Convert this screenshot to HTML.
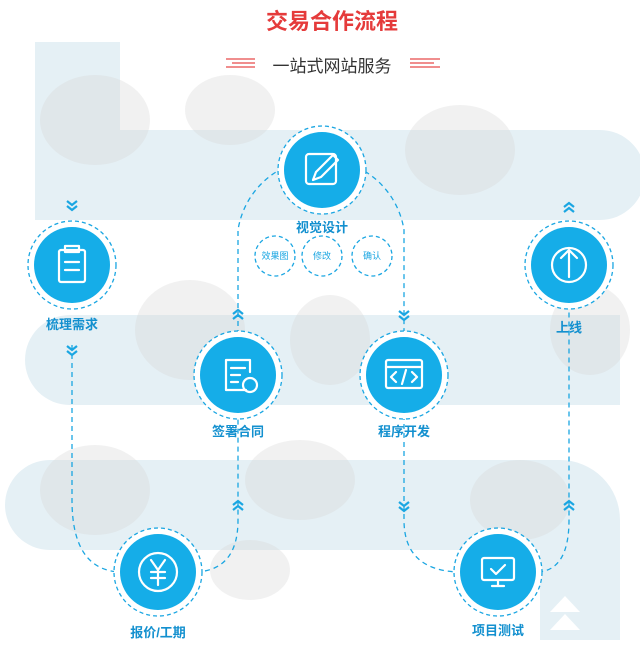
<!DOCTYPE html>
<html><head><meta charset="utf-8"><style>
body{margin:0;width:640px;height:655px;background:#fff;overflow:hidden;font-family:"Liberation Sans","Noto Sans CJK SC",sans-serif;position:relative}
svg{position:absolute;left:0;top:0}
.t{position:absolute;white-space:nowrap;transform:translateX(-50%)}
.lbl{color:#1390cf;font-size:13px;font-weight:bold}
</style></head><body>
<svg width="640" height="655">
<defs>
<g id="ch" fill="none" stroke="#1aa6e2" stroke-width="2.2"><path d="M-5,-4 L0,0 L5,-4 M-5,1 L0,5 L5,1"/></g>
</defs>
<g fill="#e5f0f5">
<rect x="35" y="42" width="85" height="100"/>
<path d="M35,130 H600 A45,45 0 0 1 600,220 H35 Z"/>
<path d="M70,315 H620 V405 H70 A45,45 0 0 1 70,315 Z"/>
<path d="M50,460 H560 A60,60 0 0 1 620,520 V640 H540 V550 H50 A45,45 0 0 1 50,460 Z"/>
</g>
<g fill="#d8d8d8" opacity="0.35">
<ellipse cx="95" cy="120" rx="55" ry="45"/><ellipse cx="230" cy="110" rx="45" ry="35"/>
<ellipse cx="460" cy="150" rx="55" ry="45"/><ellipse cx="590" cy="330" rx="40" ry="45"/>
<ellipse cx="190" cy="330" rx="55" ry="50"/><ellipse cx="330" cy="340" rx="40" ry="45"/>
<ellipse cx="95" cy="490" rx="55" ry="45"/><ellipse cx="300" cy="480" rx="55" ry="40"/>
<ellipse cx="520" cy="500" rx="50" ry="40"/><ellipse cx="250" cy="570" rx="40" ry="30"/>
</g>
<polygon points="550,612 565,596 580,612" fill="#fff"/><polygon points="550,630 565,614 580,630" fill="#fff"/>
<g stroke="#e64a4a" stroke-width="1.2">
<line x1="226" y1="59" x2="255" y2="59"/><line x1="232" y1="63" x2="255" y2="63"/><line x1="226" y1="67" x2="255" y2="67"/>
<line x1="410" y1="59" x2="440" y2="59"/><line x1="410" y1="63" x2="434" y2="63"/><line x1="410" y1="67" x2="440" y2="67"/>
</g>
<g fill="none" stroke="#1aa6e2" stroke-width="1.3" stroke-dasharray="5,4">
<path d="M72,345 V500 Q72,570 120,572"/>
<path d="M196,572 Q238,570 238,520 V415"/>
<path d="M238,335 V230 A84,84 0 0 1 404,230 V335"/>
<path d="M404,415 V520 Q404,570 458,572"/>
<path d="M538,572 Q569,570 569,520 V305"/>
</g>
<g>
<use href="#ch" x="72" y="205"/><use href="#ch" x="72" y="350"/>
<use href="#ch" x="404" y="315"/><use href="#ch" x="404" y="506"/>
<use href="#ch" transform="translate(238,315) rotate(180)"/><use href="#ch" transform="translate(238,506) rotate(180)"/>
<use href="#ch" transform="translate(569,208) rotate(180)"/><use href="#ch" transform="translate(569,506) rotate(180)"/>
</g>
<g fill="#fff" stroke="#1aa6e2" stroke-width="1.3" stroke-dasharray="4,3">
<circle cx="322" cy="170" r="44"/><circle cx="72" cy="265" r="44"/><circle cx="238" cy="375" r="44"/>
<circle cx="404" cy="375" r="44"/><circle cx="569" cy="265" r="44"/><circle cx="158" cy="572" r="44"/><circle cx="498" cy="572" r="44"/>
<circle cx="275" cy="256" r="20"/><circle cx="322" cy="256" r="20"/><circle cx="372" cy="256" r="20"/>
</g>
<g fill="#15ade8">
<circle cx="322" cy="170" r="38"/><circle cx="72" cy="265" r="38"/><circle cx="238" cy="375" r="38"/>
<circle cx="404" cy="375" r="38"/><circle cx="569" cy="265" r="38"/><circle cx="158" cy="572" r="38"/><circle cx="498" cy="572" r="38"/>
</g>
<g fill="none" stroke="#fff" stroke-width="2.2" stroke-linejoin="round" stroke-linecap="round">
<rect x="306" y="154" width="30" height="30" rx="3"/><path d="M313,180 L316,172 L333,155 L338,160 L321,177 Z"/>
<rect x="59" y="250" width="26" height="32" rx="2"/><rect x="65" y="246" width="14" height="6"/><path d="M65,262 H79 M65,270 H79"/>
<path d="M246,390 H226 V360 H250 V372 M231,368 H245 M231,375 H240 M231,382 H238"/><circle cx="250" cy="385" r="7"/>
<rect x="386" y="360" width="36" height="28" rx="2"/><path d="M386,367 H422 M396,372 L391,377 L396,382 M412,372 L417,377 L412,382 M406,370 L402,384"/>
<circle cx="569" cy="265" r="17"/><path d="M569,277 V250 M561,258 L569,250 L577,258"/>
<circle cx="158" cy="572" r="19"/><path d="M151,560 L158,570 L165,560 M158,570 V585 M151,572 H165 M151,578 H165"/>
<rect x="482" y="558" width="32" height="22" rx="2"/><path d="M492,586 H504 M498,580 V586 M491,569 L496,574 L505,565"/>
</g>
</svg>
<div class="t" style="left:332px;top:4px;color:#e53b3b;font-size:22px;font-weight:bold">交易合作流程</div>
<div class="t" style="left:332px;top:52px;color:#333;font-size:17px">一站式网站服务</div>
<div class="t lbl" style="left:322px;top:217px">视觉设计</div>
<div class="t" style="left:275px;top:249px;font-size:9px;color:#1aa6e2">效果图</div>
<div class="t" style="left:322px;top:249px;font-size:9px;color:#1aa6e2">修改</div>
<div class="t" style="left:372px;top:249px;font-size:9px;color:#1aa6e2">确认</div>
<div class="t lbl" style="left:72px;top:314px">梳理需求</div>
<div class="t lbl" style="left:238px;top:421px">签署合同</div>
<div class="t lbl" style="left:404px;top:421px">程序开发</div>
<div class="t lbl" style="left:569px;top:317px">上线</div>
<div class="t lbl" style="left:158px;top:622px">报价/工期</div>
<div class="t lbl" style="left:498px;top:620px">项目测试</div>
</body></html>
